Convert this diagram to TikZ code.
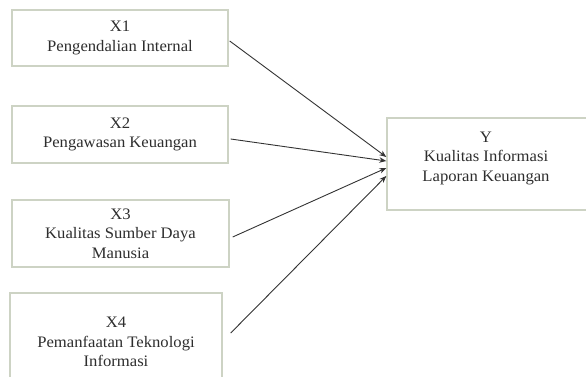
\documentclass[tikz,border=0pt]{standalone}
\usepackage{fontspec}
\setmainfont{Liberation Serif}[FakeStretch=1.04]
\usetikzlibrary{arrows.meta}
\definecolor{boxline}{HTML}{CDD3C4}
\definecolor{txt}{HTML}{2E2E2E}
\definecolor{conn}{HTML}{333333}
\tikzset{
  varbox/.style={draw=boxline, line width=1.4pt, fill=white, rectangle, inner sep=0pt,
    align=center, text=txt, font=\fontsize{16}{19.5}\selectfont},
  conn/.style={draw=conn, line width=0.9pt, -{Stealth[length=7pt,width=5.5pt]}},
}
\begin{document}
\begin{tikzpicture}[x=1pt,y=-1pt]
\useasboundingbox (0,0) rectangle (586,377);
\clip (0,0) rectangle (586,377);
\node[varbox, minimum width=216pt, minimum height=56pt] (X1) at (120,38) {X1\\Pengendalian Internal};
\node[varbox, minimum width=216pt, minimum height=57pt] (X2) at (120,134.5) {X2\\Pengawasan Keuangan};
\node[varbox, minimum width=217pt, minimum height=67pt] (X3) at (120.5,233.5) {X3\\Kualitas Sumber Daya\\Manusia};
\node[varbox, minimum width=212pt, minimum height=98pt] (X4) at (116,342) {X4\\Pemanfaatan Teknologi\\Informasi};
\node[varbox, minimum width=206pt, minimum height=92pt] (Y) at (490,164) {};
\node[align=center, text=txt, font=\fontsize{16}{19.5}\selectfont, inner sep=0pt] (Ytext) at (486,158) {Y\\Kualitas Informasi\\Laporan Keuangan};
\draw[conn] ([shift={(1pt,-3pt)}]X1.east) -- ([yshift=7pt]Y.west);
\draw[conn] ([shift={(2pt,-4.5pt)}]X2.east) -- ([yshift=3pt]Y.west);
\draw[conn] ([shift={(3pt,-3.5pt)}]X3.east) -- ([yshift=-4pt]Y.west);
\draw[conn] ([shift={(8pt,9pt)}]X4.east) -- ([yshift=-12pt]Y.west);
\end{tikzpicture}
\end{document}
